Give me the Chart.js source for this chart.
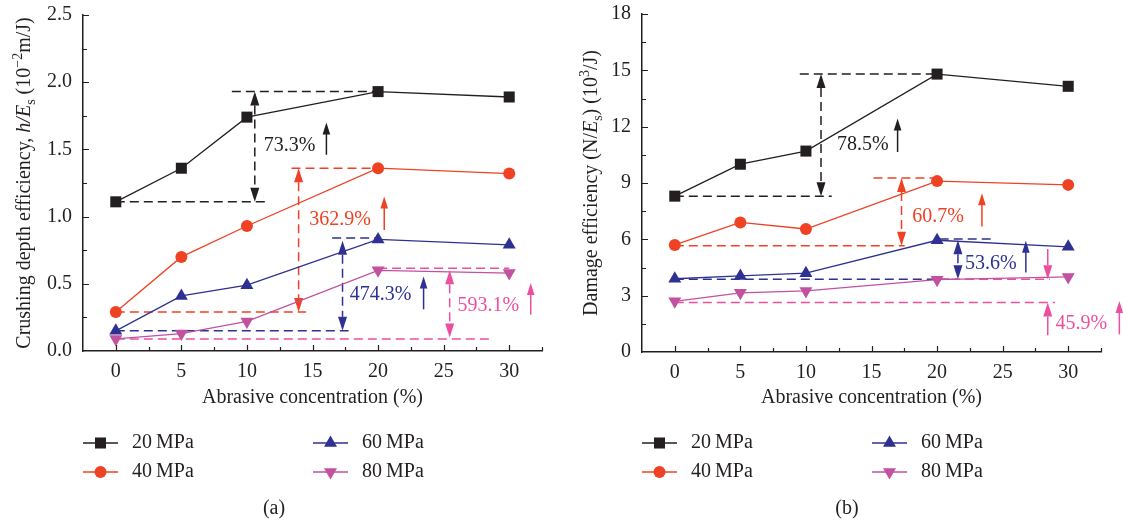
<!DOCTYPE html>
<html>
<head>
<meta charset="utf-8">
<script src="https://cdn.jsdelivr.net/npm/chart.js@4/dist/chart.umd.min.js"></script>
<style>
  body { margin: 0; background: #fff; width: 1123px; height: 525px; position: relative; overflow: hidden; }
  #wrapA { position: absolute; left: 0; top: 0; width: 559px; height: 525px; }
  #wrapB { position: absolute; left: 559px; top: 0; width: 564px; height: 525px; }
</style>
</head>
<body>
<div id="wrapA"><canvas id="chartA" width="559" height="525"></canvas></div>
<div id="wrapB"><canvas id="chartB" width="564" height="525"></canvas></div>
<script>
// abrasive concentration (%) and pump pressure series
const concentration = [0, 5, 10, 20, 30];
const pressures = ['20\u2009MPa', '40\u2009MPa', '60\u2009MPa', '80\u2009MPa'];

// (a) crushing depth efficiency h/Es (10^-2 m/J)
const depth20 = [1.11, 1.36, 1.74, 1.93, 1.89];
const depth40 = [0.29, 0.70, 0.93, 1.36, 1.32];
const depth60 = [0.15, 0.41, 0.49, 0.83, 0.79];
const depth80 = [0.09, 0.13, 0.22, 0.60, 0.58];

// (b) damage efficiency N/Es (10^3/J)
const damage20 = [8.3, 10.0, 10.7, 14.8, 14.15];
const damage40 = [5.7, 6.9, 6.55, 9.1, 8.9];
const damage60 = [3.9, 4.05, 4.2, 5.95, 5.6];
const damage80 = [2.7, 3.15, 3.25, 3.85, 4.0];

// tick labels
const xTicks = [0, 5, 10, 15, 20, 25, 30];
const depthTicks = [0, 0.5, 1.0, 1.5, 2.0, 2.5];
const damageTicks = [0, 3, 6, 9, 12, 15, 18];

// increase annotations (data units)
const depthNotes = [
  { text: '73.3%', color: 'black', low: 1.11, lowTo: 11.4, high: 1.93, highFrom: 8.85, highTo: 20, ax: 10.6, tx: 13.25, ty: 1.53, upX: 16.06, upFrom: 1.46, upTo: 1.70 },
  { text: '362.9%', color: 'red', low: 0.29, lowTo: 14.5, high: 1.36, highFrom: 13.4, highTo: 20, ax: 13.94, tx: 17.1, ty: 0.975, upX: 20.47, upFrom: 0.90, upTo: 1.15 },
  { text: '474.3%', color: 'blue', low: 0.15, lowTo: 17.75, high: 0.84, highFrom: 16.5, highTo: 20, ax: 17.29, tipHigh: 0.82, tx: 20.2, ty: 0.42, upX: 23.47, upFrom: 0.31, upTo: 0.555 },
  { text: '593.1%', color: 'pink', low: 0.09, lowTo: 28.7, high: 0.615, highFrom: 20, highTo: 30, ax: 25.46, tipHigh: 0.6, tipLow: 0.1, tx: 28.4, ty: 0.338, upX: 31.64, upFrom: 0.27, upTo: 0.506 }
];
const damageNotes = [
  { text: '78.5%', color: 'black', low: 8.3, lowTo: 11.97, high: 14.8, highFrom: 9.53, highTo: 20, ax: 11.15, tx: 14.33, ty: 11.04, upX: 16.99, upFrom: 10.65, upTo: 12.43 },
  { text: '60.7%', color: 'red', low: 5.66, lowTo: 17.53, high: 9.26, highFrom: 15.15, highTo: 20, ax: 17.29, tx: 20.08, ty: 7.21, upX: 23.42, upFrom: 6.69, upTo: 8.46 },
  { text: '53.6%', color: 'blue', low: 3.88, lowTo: 21.6, high: 6.02, highFrom: 20.2, highTo: 24.25, ax: 21.59, tipHigh: 5.95, tx: 24.1, ty: 4.68, upX: 26.77, upFrom: 4.24, upTo: 5.93 },
  { text: '45.9%', color: 'pink', low: 2.63, lowTo: 28.99, high: 3.88, highFrom: 20, highTo: 28.6, ax: 28.44, outside: true, outTop: 5.48, outBottom: 0.89, tx: 31.0, ty: 1.51, upX: 33.9, upFrom: 0.94, upTo: 2.72 }
];

const ink = '#231f20';
const seriesColors = ['#231f20', '#ef4123', '#2e3192', '#c2519f'];
const pointStyles = ['rect', 'circle', 'triangle', 'triangle'];
const pointRotations = [0, 0, 0, 180];
const pointSizes = [7.8, 6, 7.5, 7.5];
const noteColors = { black: '#231f20', red: '#ef4123', blue: '#2e3192', pink: '#ec4f9f' };
const serif = 'Liberation Serif';

function makeSets(series) {
  return series.map((vals, i) => ({
    label: pressures[i],
    data: concentration.map((c, j) => ({ x: c, y: vals[j] })),
    borderColor: seriesColors[i],
    backgroundColor: seriesColors[i],
    borderWidth: 1.3,
    pointStyle: pointStyles[i],
    pointRotation: pointRotations[i],
    pointRadius: pointSizes[i],
    pointBorderWidth: 0,
    tension: 0,
    clip: false
  }));
}

function head(ctx, x, y, dir, len, hw) {
  // dir -1: pointing up, +1: pointing down, tip at (x, y)
  ctx.beginPath();
  ctx.moveTo(x, y);
  ctx.lineTo(x - hw, y - dir * len);
  ctx.lineTo(x + hw, y - dir * len);
  ctx.closePath();
  ctx.fill();
}

function drawNote(ctx, xs, ys, n) {
  const c = noteColors[n.color];
  ctx.strokeStyle = c;
  ctx.fillStyle = c;
  ctx.lineWidth = 1.5;
  ctx.setLineDash([9, 5]);
  const hl = (v, a, b) => {
    const py = ys.getPixelForValue(v);
    ctx.beginPath();
    ctx.moveTo(xs.getPixelForValue(a), py);
    ctx.lineTo(xs.getPixelForValue(b), py);
    ctx.stroke();
  };
  hl(n.low, 0, n.lowTo);
  hl(n.high, n.highFrom, n.highTo);

  const ax = xs.getPixelForValue(n.ax);
  const len = 14, hw = 4.5;
  if (n.outside) {
    ctx.setLineDash([]);
    const pTop = ys.getPixelForValue(n.outTop), pHi = ys.getPixelForValue(n.high);
    const pLo = ys.getPixelForValue(n.low), pBot = ys.getPixelForValue(n.outBottom);
    ctx.beginPath();
    ctx.moveTo(ax, pTop); ctx.lineTo(ax, pHi - len);
    ctx.moveTo(ax, pBot); ctx.lineTo(ax, pLo + len);
    ctx.stroke();
    head(ctx, ax, pHi, 1, len, hw);
    head(ctx, ax, pLo, -1, len, hw);
  } else {
    const pHi = ys.getPixelForValue(n.tipHigh !== undefined ? n.tipHigh : n.high);
    const pLo = ys.getPixelForValue(n.tipLow !== undefined ? n.tipLow : n.low);
    ctx.beginPath();
    ctx.moveTo(ax, pHi + len); ctx.lineTo(ax, pLo - len);
    ctx.stroke();
    ctx.setLineDash([]);
    head(ctx, ax, pHi, -1, len, hw);
    head(ctx, ax, pLo, 1, len, hw);
  }
  ctx.setLineDash([]);

  ctx.font = '20px "' + serif + '"';
  ctx.textAlign = 'center';
  ctx.textBaseline = 'middle';
  ctx.fillText(n.text, xs.getPixelForValue(n.tx), ys.getPixelForValue(n.ty));

  const ux = xs.getPixelForValue(n.upX);
  const u1 = ys.getPixelForValue(n.upFrom), u2 = ys.getPixelForValue(n.upTo);
  ctx.beginPath();
  ctx.moveTo(ux, u1); ctx.lineTo(ux, u2 + 10);
  ctx.stroke();
  head(ctx, ux, u2, -1, 12, 3.8);
}

function drawRichTitle(ctx, segs, cx, cy) {
  const fontOf = s => (s.it ? 'italic ' : '') + ((s.sub || s.sup) ? '14px' : '20px') + ' "' + serif + '"';
  let total = 0;
  segs.forEach(s => { ctx.font = fontOf(s); total += ctx.measureText(s.t).width; });
  ctx.save();
  ctx.translate(cx, cy);
  ctx.rotate(-Math.PI / 2);
  ctx.fillStyle = ink;
  ctx.textAlign = 'left';
  ctx.textBaseline = 'alphabetic';
  let pos = -total / 2;
  segs.forEach(s => {
    ctx.font = fontOf(s);
    const dy = s.sub ? 5 : (s.sup ? -8 : 0);
    ctx.fillText(s.t, pos, 7 + dy);
    pos += ctx.measureText(s.t).width;
  });
  ctx.restore();
}

const deco = {
  id: 'deco',
  beforeDatasetsDraw(chart, args, o) {
    const { ctx, scales: { x, y } } = chart;
    ctx.save();
    o.notes.forEach(n => drawNote(ctx, x, y, n));
    ctx.restore();
  },
  afterDraw(chart, args, o) {
    const { ctx, chartArea: ca, scales: { x, y } } = chart;
    ctx.save();
    // inward tick marks
    ctx.strokeStyle = ink;
    ctx.lineWidth = 1.2;
    ctx.beginPath();
    for (let v = x.min + 2.5; v <= x.max + 1e-9; v += 2.5) {
      const px = Math.round(x.getPixelForValue(v)) + 0.5;
      const l = xTicks.some(t => Math.abs(t - v) < 1e-6) ? 6 : 4;
      ctx.moveTo(px, ca.bottom); ctx.lineTo(px, ca.bottom - l);
    }
    for (let v = y.min + o.yStep; v <= y.max + 1e-9; v += o.yStep) {
      const py = Math.round(y.getPixelForValue(v)) + 0.5;
      const l = o.yTicks.some(t => Math.abs(t - v) < 1e-6) ? 6 : 4;
      ctx.moveTo(ca.left, py); ctx.lineTo(ca.left + l, py);
    }
    ctx.stroke();

    // axis titles
    drawRichTitle(ctx, o.yTitle, o.yTitleX, (ca.top + ca.bottom) / 2);
    ctx.fillStyle = ink;
    ctx.font = '20px "' + serif + '"';
    ctx.textAlign = 'center';
    ctx.textBaseline = 'middle';
    ctx.fillText('Abrasive concentration (%)', (ca.left + ca.right) / 2, 398);

    // legend, two columns
    const cols = [83, 313], rows = [443, 472];
    chart.data.datasets.forEach((ds, i) => {
      const lx = cols[Math.floor(i / 2)], ly = rows[i % 2];
      ctx.strokeStyle = ds.borderColor;
      ctx.fillStyle = ds.backgroundColor;
      ctx.lineWidth = 1.5;
      ctx.beginPath();
      ctx.moveTo(lx, ly); ctx.lineTo(lx + 35, ly);
      ctx.stroke();
      Chart.helpers.drawPoint(ctx, { pointStyle: ds.pointStyle, rotation: ds.pointRotation, radius: ds.pointRadius, borderWidth: 0 }, lx + 17.5, ly);
      ctx.fillStyle = ink;
      ctx.textAlign = 'left';
      ctx.fillText(ds.label, lx + 49, ly);
    });

    // panel letter
    ctx.textAlign = 'center';
    ctx.fillText(o.letter, o.letterX, 509);
    ctx.restore();
  }
};

function makeChart(id, series, yMax, yTicks, yStep, fmt, topPad, rightPad, bottom, notes, yTitle, yTitleX, letter, letterX) {
  const font = { family: serif, size: 20 };
  return new Chart(document.getElementById(id), {
    type: 'line',
    data: { datasets: makeSets(series) },
    plugins: [deco],
    options: {
      responsive: false,
      animation: false,
      devicePixelRatio: 1,
      layout: { padding: { top: topPad, right: rightPad, left: 0, bottom: 0 } },
      plugins: {
        legend: { display: false },
        tooltip: { enabled: false },
        deco: { notes, yTicks, yStep, yTitle, yTitleX, letter, letterX }
      },
      scales: {
        x: {
          type: 'linear', min: -2.5, max: 32.5,
          afterBuildTicks: s => { s.ticks = xTicks.map(v => ({ value: v })); },
          afterFit: s => { s.height = 525 - bottom; s.paddingLeft = 0; s.paddingRight = 0; },
          grid: { display: false, drawTicks: false },
          border: { display: true, color: ink, width: 1.5 },
          ticks: { font, color: ink, padding: 9, maxRotation: 0, autoSkip: false }
        },
        y: {
          type: 'linear', min: 0, max: yMax,
          afterBuildTicks: s => { s.ticks = yTicks.map(v => ({ value: v })); },
          afterFit: s => { s.width = 83; s.paddingTop = 0; s.paddingBottom = 0; },
          grid: { display: false, drawTicks: false },
          border: { display: true, color: ink, width: 1.5 },
          ticks: { font, color: ink, padding: 11, callback: fmt }
        }
      }
    }
  });
}

makeChart('chartA', [depth20, depth40, depth60, depth80], 2.5, depthTicks, 0.25, v => v.toFixed(1), 15, 17, 351, depthNotes,
  [{ t: 'Crushing depth efficiency, ' }, { t: 'h/E', it: true }, { t: 's', sub: true }, { t: ' (10' }, { t: '\u22122', sup: true }, { t: 'm/J)' }],
  23, '(a)', 274);

makeChart('chartB', [damage20, damage40, damage60, damage80], 18, damageTicks, 1.5, v => String(v), 14, 22, 352, damageNotes,
  [{ t: 'Damage efficiency (N/' }, { t: 'E', it: true }, { t: 's', sub: true }, { t: ') (10' }, { t: '3', sup: true }, { t: '/J)' }],
  31, '(b)', 288);
</script>
</body>
</html>
